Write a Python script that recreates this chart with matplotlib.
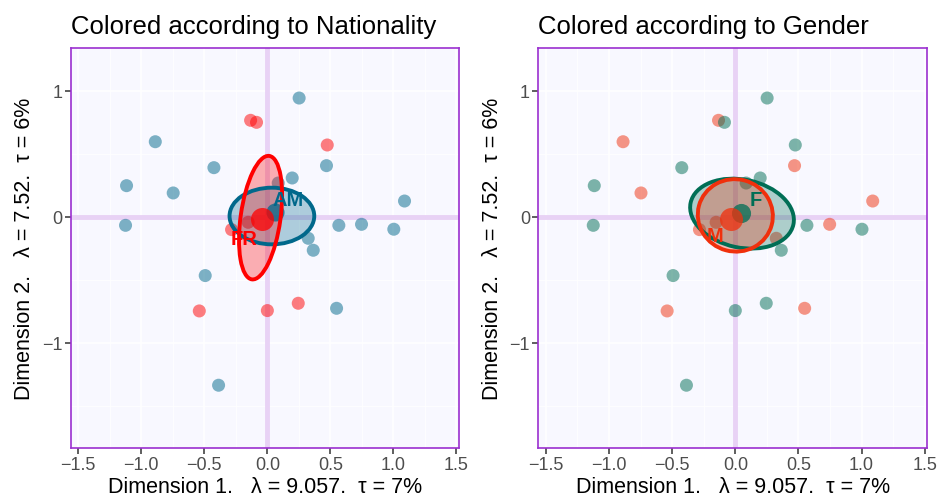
import matplotlib
matplotlib.use("Agg")
import matplotlib.pyplot as plt
from matplotlib.patches import Ellipse
import numpy as np

plt.rcParams['font.family'] = ['Liberation Sans', 'DejaVu Sans']

# individual coordinates (dimension 1, dimension 2)
pts_x = [0.252, -0.889, -0.424, -1.117, -0.747, -1.125, 0.197, 0.469, 0.086,
         1.088, 0.567, 0.747, 1.003, 0.324, 0.364, -0.493, 0.549, -0.387,
         -0.133, -0.086, 0.475, -0.540, 0.000, 0.245, -0.284, -0.152]
pts_y = [0.942, 0.595, 0.389, 0.246, 0.188, -0.069, 0.307, 0.405, 0.267,
         0.124, -0.069, -0.061, -0.100, -0.172, -0.267, -0.468, -0.728, -1.339,
         0.765, 0.749, 0.569, -0.749, -0.746, -0.688, -0.103, -0.045]
nationality = ['AM'] * 18 + ['FR'] * 8
gender = ['F', 'M', 'F', 'F', 'M', 'F', 'F', 'M', 'F',
          'M', 'F', 'M', 'F', 'M', 'F', 'F', 'M', 'F',
          'M', 'F', 'F', 'M', 'F', 'F', 'M', 'M']

# group means and confidence ellipses, per panel
nat_groups = ['AM', 'FR']
nat_mean_x = [0.06, -0.046]
nat_mean_y = [0.035, -0.018]
nat_ell = [(0.036, 0.005, 0.672, 0.450, 0),      # cx, cy, width, height, angle
           (-0.054, -0.008, 0.99, 0.316, 82)]
nat_lab_xy = [(0.165, 0.14), (-0.184, -0.172)]

gen_groups = ['F', 'M']
gen_mean_x = [0.045, -0.034]
gen_mean_y = [0.029, -0.019]
gen_ell = [(0.053, 0.024, 0.832, 0.54, -12),
           (0.0, 0.010, 0.596, 0.574, -15)]
gen_lab_xy = [(0.163, 0.14), (-0.16, -0.15)]

xlab = "Dimension 1.   \u03bb = 9.057.  \u03c4 = 7%"
ylab = "Dimension 2.   \u03bb = 7.52.  \u03c4 = 6%"

BG = '#F8F8FF'
BORDER = '#9B30D0'
ZERO = '#E8D2F5'


def panel(ax, title, groups, labels, colors, mean_x, mean_y, ells, lab_xy, mean_s):
    ax.set_facecolor(BG)
    ax.set_xlim(-1.56, 1.52)
    ax.set_ylim(-1.835, 1.337)
    ax.set_xticks([-1.5, -1.0, -0.5, 0.0, 0.5, 1.0, 1.5])
    ax.set_xticklabels(['\u22121.5', '\u22121.0', '\u22120.5', '0.0', '0.5', '1.0', '1.5'])
    ax.set_xticks(np.arange(-1.25, 1.5, 0.5), minor=True)
    ax.set_yticks([-1, 0, 1])
    ax.set_yticklabels(['\u22121', '0', '1'])
    ax.set_yticks([-1.5, -0.5, 0.5], minor=True)
    ax.grid(True, which='major', color='white', lw=1.1, zorder=0)
    ax.grid(True, which='minor', color='white', lw=0.6, zorder=0)
    ax.set_axisbelow(True)
    ax.tick_params(which='major', length=4, width=1.1, color='#333333',
                   labelsize=13, labelcolor='#4D4D4D', pad=2)
    ax.tick_params(which='minor', length=0)
    for s in ax.spines.values():
        s.set_color(BORDER)
        s.set_linewidth(1.2)
    ax.axhline(0, color=ZERO, lw=3.5, zorder=1)
    ax.axvline(0, color=ZERO, lw=3.5, zorder=1)

    c = [colors[groups.index(g)] for g in labels]
    ax.scatter(pts_x, pts_y, s=88, c=c, alpha=0.5, linewidths=0, zorder=2)

    for i, g in enumerate(groups):
        cx, cy, w, h, ang = ells[i]
        ax.add_patch(Ellipse((cx, cy), w, h, angle=ang, facecolor=colors[i],
                             alpha=0.3, edgecolor='none', zorder=3))
        ax.scatter([mean_x[i]], [mean_y[i]], s=mean_s[i], c=colors[i],
                   alpha=0.75, linewidths=0, zorder=4)
        ax.add_patch(Ellipse((cx, cy), w, h, angle=ang, facecolor='none',
                             edgecolor=colors[i], lw=2.8, zorder=5))
        ax.text(lab_xy[i][0], lab_xy[i][1], g, color=colors[i], fontsize=14.5,
                fontweight='bold', ha='center', va='center', zorder=6)

    ax.set_title(title, loc='left', fontsize=18.5, pad=11)
    ax.set_xlabel(xlab, fontsize=15.5, labelpad=2.5)
    ax.set_ylabel(ylab, fontsize=15.5, labelpad=5)


fig = plt.figure(figsize=(9.39, 5.02), dpi=100)
ax1 = fig.add_axes([0.0753, 0.1062, 0.4135, 0.7956])
ax2 = fig.add_axes([0.5733, 0.1062, 0.4142, 0.7956])

panel(ax1, "Colored according to Nationality", nat_groups, nationality,
      ['#00688B', '#FF0000'], nat_mean_x, nat_mean_y, nat_ell, nat_lab_xy, [170, 275])
panel(ax2, "Colored according to Gender", gen_groups, gender,
      ['#006E55', '#F0300C'], gen_mean_x, gen_mean_y, gen_ell, gen_lab_xy, [190, 275])

fig.savefig("out.png", dpi=100)
